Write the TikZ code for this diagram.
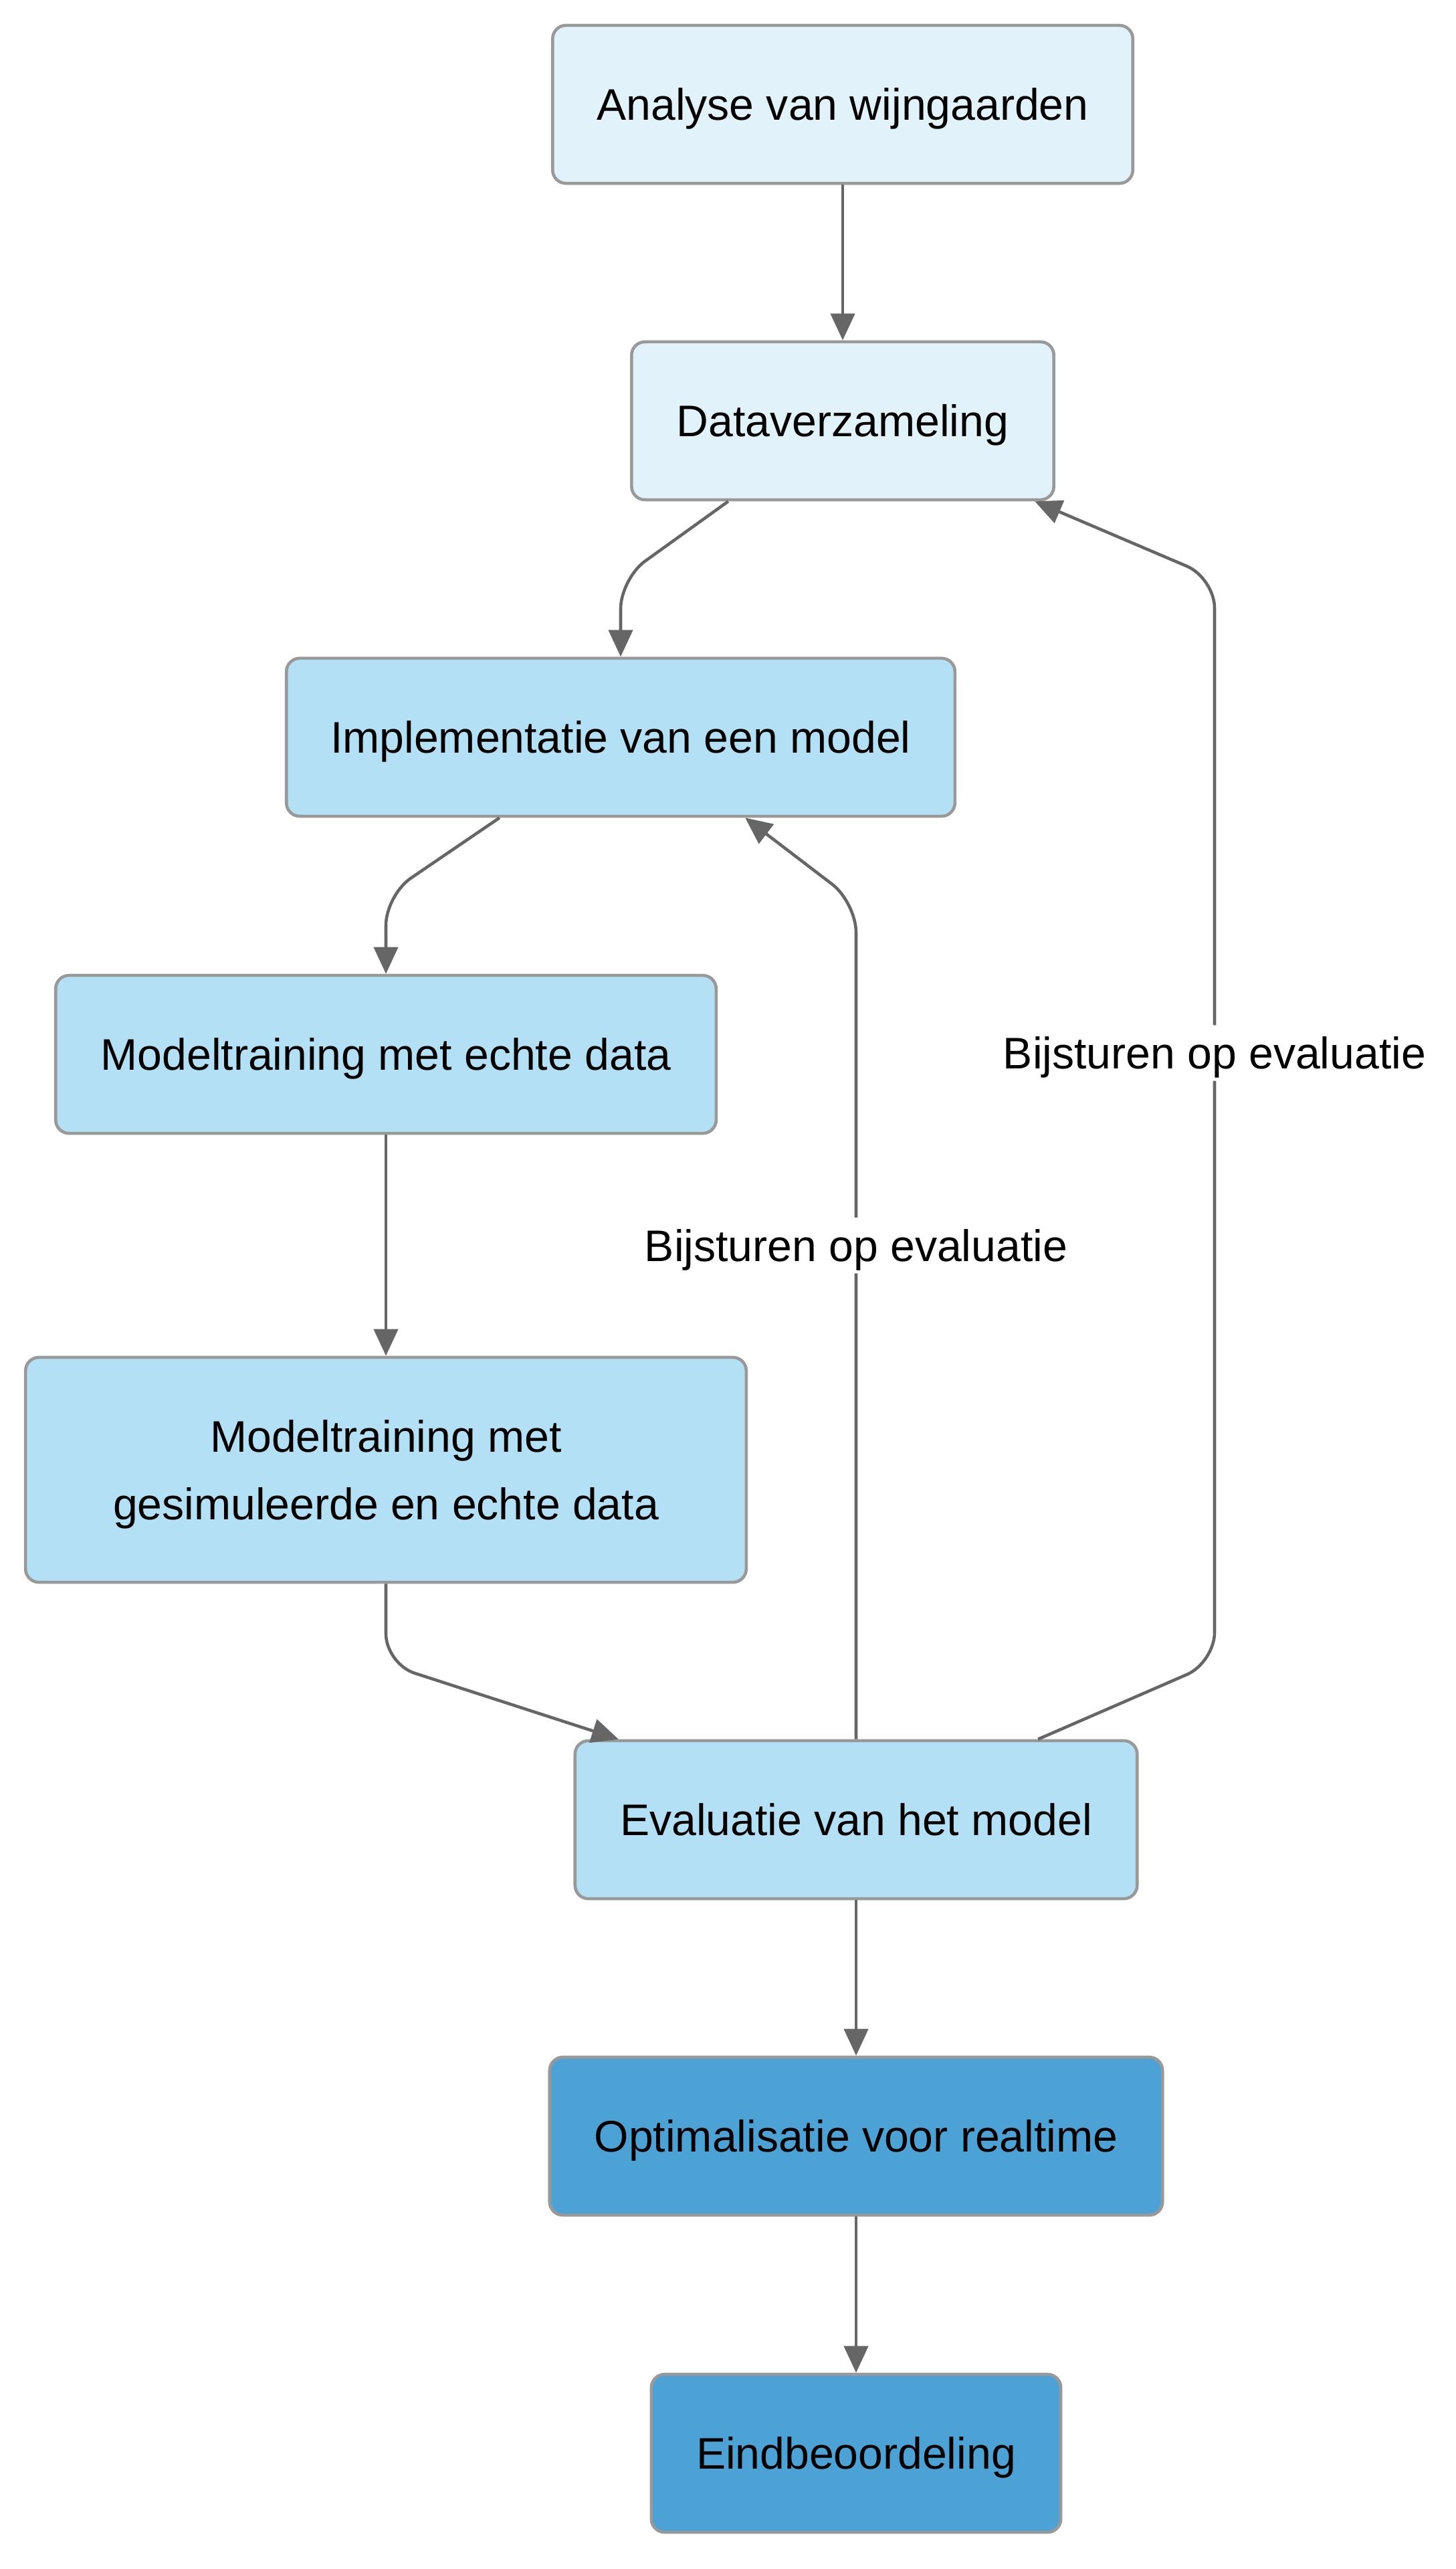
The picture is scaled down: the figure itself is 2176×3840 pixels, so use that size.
\documentclass[tikz,border=0pt]{standalone}
\usepackage{fontspec}
\setmainfont{Liberation Sans}
\usetikzlibrary{arrows.meta}

\definecolor{licht}{HTML}{E1F2FA}
\definecolor{midden}{HTML}{B3E0F5}
\definecolor{donker}{HTML}{4CA1D5}
\definecolor{randgrijs}{HTML}{999999}
\definecolor{pijlgrijs}{HTML}{666666}

\begin{document}
\begin{tikzpicture}[x=0.01cm, y=-0.01cm,
        every node/.style={font=\fontsize{18.8}{28.5}\selectfont, text depth=0pt},
        stap/.style={draw=randgrijs, line width=1.3pt, rounded corners=0.2cm, minimum height=2.36cm, align=center},
        pijl/.style={draw=pijlgrijs, line width=1.3pt, rounded corners=0.45cm, -{Triangle[length=0.4cm, width=0.36cm]}},
        lbl/.style={fill=white, inner sep=5pt}]
        \useasboundingbox (0,0) rectangle (2176,3840);
        \node[stap, fill=licht, minimum width=8.67cm] (analyse) at (1260,156) {Analyse van wijngaarden};
        \node[stap, fill=licht, minimum width=6.31cm] (data) at (1260,629) {Dataverzameling};
        \node[stap, fill=midden, minimum width=9.99cm] (impl) at (928,1102) {Implementatie van een model};
        \node[stap, fill=midden, minimum width=9.87cm] (echt) at (577,1576) {Modeltraining met echte data};
        \node[stap, fill=midden, minimum width=10.77cm, minimum height=3.36cm] (gesim) at (577,2197) {Modeltraining met\\gesimuleerde en echte data};
        \node[stap, fill=midden, minimum width=8.40cm] (eval) at (1280,2720) {Evaluatie van het model};
        \node[stap, fill=donker, minimum width=9.16cm] (optim) at (1280,3193) {Optimalisatie voor realtime};
        \node[stap, fill=donker, minimum width=6.12cm] (eind) at (1280,3667) {Eindbeoordeling};

        \draw[pijl] (analyse) -- (data);
        \draw[pijl] ([xshift=-1.71cm]data.south) -- (928,865) -- (impl.north);
        \draw[pijl] ([xshift=-1.81cm]impl.south) -- (577,1338) -- (echt.north);
        \draw[pijl] (echt) -- (gesim);
        \draw[pijl] (gesim.south) -- (577,2487) -- ([xshift=-3.55cm]eval.north);
        \draw[pijl] (eval.north) -- node[lbl, pos=0.59] {Bijsturen op evaluatie} (1280,1349) -- ([xshift=1.86cm]impl.south);
        \draw[pijl] ([xshift=2.72cm]eval.north) -- (1816,2485) -- node[lbl, pos=0.562] {Bijsturen op evaluatie} (1816,864) -- ([xshift=2.87cm]data.south);
        \draw[pijl] (eval) -- (optim);
        \draw[pijl] (optim) -- (eind);
    \end{tikzpicture}
\end{document}
